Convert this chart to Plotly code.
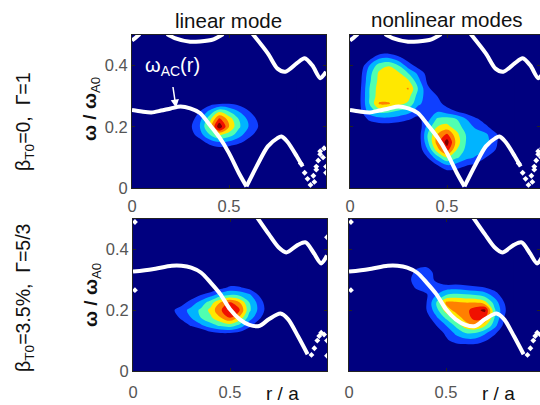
import plotly.graph_objects as go

W, H = 540, 405

# radial grid and frequency grid of the mode-amplitude tables
r_grid = [0, .05, .1, .15, .2, .25, .3, .35, .4, .45, .5, .55, .6, .65, .7, .75, .8, .85]
w_grid = [.05, .075, .1, .125, .15, .175, .2, .225, .25, .275, .3, .325, .35, .375, .4, .425, .45]

z_top_linear = [
 [0]*18, [0]*18, [0]*18,
 [0,0,0,0,0,0,0,0,0,.4,.3,0,0,0,0,0,0,0],
 [0,0,0,0,0,0,0,.5,1.5,2,1.8,1.3,.6,0,0,0,0,0],
 [0,0,0,0,0,0,.5,1.6,3,4.2,3.6,2.5,1.4,.6,0,0,0,0],
 [0,0,0,0,0,0,.8,2,4.2,7.8,5,3.2,2,1,0,0,0,0],
 [0,0,0,0,0,0,.5,1.7,3.6,6.3,4.6,3,1.8,.8,0,0,0,0],
 [0,0,0,0,0,0,0,1,2.3,3.8,3,2,1.1,.3,0,0,0,0],
 [0,0,0,0,0,0,0,0,.6,.9,1,.7,.2,0,0,0,0,0],
 [0]*18, [0]*18, [0]*18, [0]*18, [0]*18, [0]*18, [0]*18,
]

z_top_nonlinear = [
 [0,0,0,0,0,0,0,0,0,0,.5,.4,.1,0,0,0,0,0],
 [0,0,0,0,0,0,0,0,0,1,2,1.6,1.1,.7,.2,0,0,0],
 [0,0,0,0,0,0,0,0,1,2.6,4,3.2,2.3,1.9,1,.3,0,0],
 [0,0,0,0,0,0,0,.2,2,4.6,6.5,4,2.7,2.4,2,1,0,0],
 [0,0,0,0,0,0,0,.2,2.8,5.5,7.5,4.6,2.9,2.6,2.4,1.2,.2,0],
 [0,0,0,0,0,0,0,.2,3,5,6.2,4.3,2.9,2.5,2.2,1.2,.2,0],
 [0,0,.3,.4,.4,.3,.2,.1,2.4,4,4.3,3.5,2.5,1.8,1.2,.4,0,0],
 [0,.2,1.2,1.6,1.7,1.5,1.1,.7,1.6,3.2,3.5,3,2,1.2,.5,0,0,0],
 [0,.6,2.5,3.3,3.2,2.8,2.4,1.5,1.5,1.9,1.5,1,.5,0,0,0,0,0],
 [0,.8,3,5.1,5.1,4.3,3.8,2.2,1.6,1.4,.6,0,0,0,0,0,0,0],
 [0,.8,3,4.6,4.6,4.5,4.4,2.6,1.5,1,.2,0,0,0,0,0,0,0],
 [0,.7,3,4.5,4.6,4.5,5.1,3,1.2,.4,0,0,0,0,0,0,0,0],
 [0,.6,2.8,4.3,5,4.4,4.2,2.4,.8,0,0,0,0,0,0,0,0,0],
 [0,.5,2.6,4.2,5,4.2,3,1.8,.6,0,0,0,0,0,0,0,0,0],
 [0,.2,2,3.5,3.9,3,1.5,.6,0,0,0,0,0,0,0,0,0,0],
 [0,0,.6,1.8,2,1.3,.5,0,0,0,0,0,0,0,0,0,0,0],
 [0,0,0,0,.2,0,0,0,0,0,0,0,0,0,0,0,0,0],
]

z_bottom_linear = [
 [0]*18, [0]*18, [0]*18,
 [0,0,0,0,0,0,0,0,.7,1,1,.7,.2,0,0,0,0,0],
 [0,0,0,0,0,.4,1.1,1.8,2.6,3.2,3.5,2.7,1.3,.3,0,0,0,0],
 [0,0,0,0,.4,1.2,2,3,3.8,4.9,6,4.7,2.5,1.2,.1,0,0,0],
 [0,0,0,0,.8,1.5,2.4,3.2,4.3,5.9,6.6,6.1,3.2,1.7,.4,0,0,0],
 [0,0,0,0,0,.6,1.4,2.4,3.5,5,6.2,5,3,1.6,.2,0,0,0],
 [0,0,0,0,0,0,.4,1,1.6,2.5,3,2.8,2.2,.9,0,0,0,0],
 [0,0,0,0,0,0,0,0,0,.6,1.2,1.1,.6,0,0,0,0,0],
 [0]*18, [0]*18, [0]*18, [0]*18, [0]*18, [0]*18, [0]*18,
]

z_bottom_nonlinear = [
 [0]*18,
 [0,0,0,0,0,0,0,0,0,0,0,.2,.3,.3,.1,0,0,0],
 [0,0,0,0,0,0,0,0,0,0,.8,1.4,1.6,1.6,1.1,.4,0,0],
 [0,0,0,0,0,0,0,0,0,.4,1.2,2.2,3,3,2.2,1.2,.2,0],
 [0,0,0,0,0,0,0,0,0,1,2,3.2,4.6,5.2,4.2,2.4,.7,0],
 [0,0,0,0,0,0,0,0,.5,1.8,3.2,4.4,5.4,6.4,6.1,3,1,0],
 [0,0,0,0,0,0,0,0,1,2.6,4.5,5.3,5.6,6.6,7.3,3.2,1.2,0],
 [0,0,0,0,0,0,0,0,1,3,5.2,5.2,5,5,4.4,2.6,1,0],
 [0,0,0,0,0,0,0,.4,.9,2,3,3.3,3.2,3,2.6,1.6,.4,0],
 [0,0,0,0,0,0,.4,1.2,1.4,1.5,1.5,1.6,1.4,1.2,1,.5,0,0],
 [0,0,0,0,0,0,.6,1.6,1.6,.8,0,0,0,0,0,0,0,0],
 [0,0,0,0,0,0,.2,1.4,1.6,.6,0,0,0,0,0,0,0,0],
 [0,0,0,0,0,0,0,.5,.7,0,0,0,0,0,0,0,0,0],
 [0]*18, [0]*18, [0]*18, [0]*18,
]

# Alfven continuum, top row (beta = 0)
top_r = [0, .05, .1, .15, .2, .25, .3, .35, .4, .45, .5, .55, .59]
top_w = [.255, .25, .247, .253, .26, .266, .26, .245, .207, .166, .114, .05, .005]
top2_r = [.59, .65, .7, .75, .77, .8, .85, .88]
top2_w = [.005, .08, .136, .163, .168, .152, .103, .07]
top_dots_r = [.87, .89, .905, .92, .935, .95, .96, .97, .985, 1, .94, .95, .97, .99, 1]
top_dots_w = [.08, .05, .03, .01, .04, .07, .09, .12, .10, .07, .02, .06, .11, .13, .05]
top_hook_r = [0, .02, .04]
top_hook_w = [.482, .492, .503]
top_up_r = [.18, .22, .3, .35, .42, .47]
top_up_w = [.503, .49, .478, .479, .486, .503]
top_up2_r = [.62, .7, .75, .79, .85, .89, .93, .97, 1]
top_up2_w = [.505, .44, .39, .38, .408, .424, .40, .359, .38]

# Alfven continuum, bottom row (beta = 3.5 %)
bot_r = [0, .1, .2, .25, .3, .35, .4, .45, .5, .55, .6, .65, .7, .76, .8, .85, .9]
bot_w = [.327, .335, .346, .346, .34, .324, .291, .253, .203, .17, .152, .148, .17, .189, .17, .115, .055]
bot_dots_r = [.92, .935, .95, .96, .97, .985, 1, 1, .01, .01, 1]
bot_dots_w = [.053, .075, .1, .115, .126, .12, .1, .05, .49, .266, .44]
bot_up_r = [.64, .7, .75, .79, .85, .89, .93, .97, 1]
bot_up_w = [.505, .45, .407, .39, .415, .423, .39, .354, .38]

x_ticks = [0, .5]
x_tick_text = ["0", "0.5"]
y_ticks = [0, .2, .4]
y_tick_text = ["0", "0.2", "0.4"]

band_colors = ["#00007f", "#0f3fff", "#00b4ff", "#50ffb0", "#ffe800", "#ff8000", "#f01000", "#800000"]
colorscale = []
for i, c in enumerate(band_colors):
    colorscale += [[i / 8, c], [(i + 1) / 8, c]]

FONT = "Liberation Sans"
panels = [
    ("", 132, 326, 35, 188, z_top_linear, "top"),
    ("2", 350, 544, 35, 188, z_top_nonlinear, "top"),
    ("3", 133, 327, 219, 371, z_bottom_linear, "bot"),
    ("4", 349, 543, 219, 371, z_bottom_nonlinear, "bot"),
]

fig = go.Figure()
layout = {}
for s, x0, x1, y0, y1, z, row in panels:
    x1c = min(x1, W)
    xmax = (x1c - x0) / (x1 - x0)
    fig.add_trace(go.Contour(
        x=r_grid, y=w_grid, z=z, xaxis="x" + s, yaxis="y" + s, showscale=False,
        colorscale=colorscale, zmin=0, zmax=8, autocontour=False,
        contours=dict(start=1, end=7, size=1, coloring="fill", showlines=False),
        line=dict(width=0, smoothing=1.0), hoverinfo="skip"))
    if row == "top":
        lines = [(top_r, top_w), (top2_r, top2_w), (top_hook_r, top_hook_w),
                 (top_up_r, top_up_w), (top_up2_r, top_up2_w)]
        dots = (top_dots_r, top_dots_w)
    else:
        lines = [(bot_r, bot_w), (bot_up_r, bot_up_w)]
        dots = (bot_dots_r, bot_dots_w)
    for xs, ys in lines:
        fig.add_trace(go.Scatter(x=xs, y=ys, xaxis="x" + s, yaxis="y" + s, mode="lines",
                                 line=dict(color="white", width=4, shape="spline", smoothing=0.8),
                                 showlegend=False))
    fig.add_trace(go.Scatter(x=dots[0], y=dots[1], xaxis="x" + s, yaxis="y" + s, mode="markers",
                             marker=dict(color="white", size=4.5, symbol="diamond"), showlegend=False))
    left = s in ("", "3")
    standoff = 3 if row == "top" else 6
    layout["xaxis" + s] = dict(domain=[x0 / W, x1c / W], range=[0, xmax], anchor="y" + s,
                               tickvals=x_ticks, ticktext=x_tick_text, ticks="inside", ticklen=3,
                               tickcolor="#222", showline=True, linecolor="#222", linewidth=1,
                               mirror="ticks", showgrid=False, zeroline=False, automargin=False,
                               ticklabelstandoff=standoff,
                               tickfont=dict(family=FONT, size=16.5, color="#555"))
    layout["yaxis" + s] = dict(domain=[1 - y1 / H, 1 - y0 / H], range=[0, .5], anchor="x" + s,
                               tickvals=y_ticks, ticktext=y_tick_text if left else ["", "", ""],
                               ticks="inside", ticklen=3, tickcolor="#222", showline=True,
                               linecolor="#222", linewidth=1, mirror="ticks", showgrid=False,
                               zeroline=False, automargin=False,
                               tickfont=dict(family=FONT, size=16.5, color="#555"))


def label(text, px, py, size, color="#111", angle=0):
    return dict(text=text, x=px / W, y=1 - py / H, xref="paper", yref="paper", showarrow=False,
                xanchor="center", yanchor="middle", textangle=angle,
                font=dict(family=FONT, size=size, color=color))


annotations = [
    label("linear mode", 228, 21, 20.5),
    label("nonlinear modes", 447, 19, 20.5),
    label("r / a", 282, 393, 19),
    label("r / a", 498, 393, 19),
    label("<b>ω / ω</b><sub>A0</sub>", 91, 109, 19, angle=-90),
    label("<b>ω / ω</b><sub>A0</sub>", 92, 295, 19, angle=-90),
    label("β<sub>T0</sub>=0,\u00a0\u00a0Γ=1", 24, 122, 19.5, angle=-90),
    label("β<sub>T0</sub>=3.5%,\u00a0\u00a0Γ=5/3", 24, 298, 19.5, angle=-90),
    label("ω<sub>AC</sub>(r)", 172, 67, 20, color="white"),
    dict(x=.227, y=.262, ax=.21, ay=.335, xref="x", yref="y", axref="x", ayref="y", text="",
         showarrow=True, arrowhead=2, arrowsize=1.1, arrowwidth=1.5, arrowcolor="white"),
]

fig.update_layout(width=W, height=H, margin=dict(l=0, r=0, t=0, b=0), showlegend=False,
                  paper_bgcolor="white", plot_bgcolor="#00007f", annotations=annotations, **layout)
fig.write_html("out.html", post_script="document.body.style.margin='0';",
               config={"displayModeBar": False})
